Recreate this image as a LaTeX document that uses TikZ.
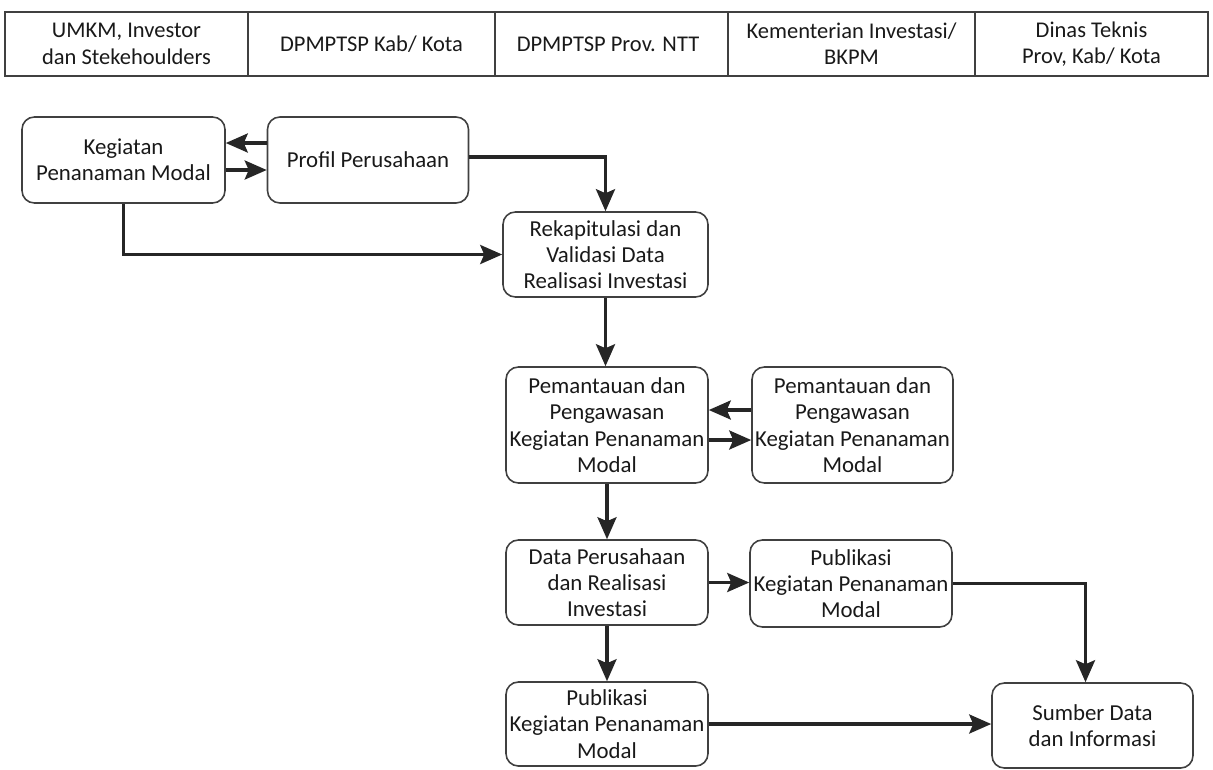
\documentclass[tikz,border=0pt]{standalone}
\usepackage{fontspec}
\setmainfont{Carlito}
\usetikzlibrary{arrows.meta,calc}

\tikzset{
  box/.style={draw=black!75, line width=0.9pt, rounded corners=7pt,
    align=center, inner sep=1pt, text=black!90,
    font=\fontsize{13}{15}\selectfont},
  head/.style={align=center, text=black!90,
    font=\fontsize{12.8}{15}\selectfont},
  arr/.style={line width=1.9pt, draw=black!85,
    -{Stealth[length=0.44cm, width=0.38cm, inset=0.08cm]}}
}

\begin{document}
\begin{tikzpicture}[x=0.02cm, y=-0.02cm]

\useasboundingbox (0,0) rectangle (1213,769);

% Header table
\draw[line width=0.9pt, black!75] (5,12) rectangle (1208,76);
\draw[line width=0.9pt, black!75] (248,12) -- (248,76);
\draw[line width=0.9pt, black!75] (495,12) -- (495,76);
\draw[line width=0.9pt, black!75] (728,12) -- (728,76);
\draw[line width=0.9pt, black!75] (975,12) -- (975,76);

\node[head] (hd1) at (126.5,44) {UMKM, Investor\\dan Stekehoulders};
\node[head] (hd2) at (371.5,44) {DPMPTSP Kab/ Kota};
\node[head] (hd3) at (608,44) {DPMPTSP Prov. NTT};
\node[head] (hd4) at (851.5,44) {Kementerian Investasi/\\BKPM};
\node[head] (hd5) at (1091.5,44) {Dinas Teknis\\Prov, Kab/ Kota};

% Process boxes
\node[box, minimum width=4.06cm, minimum height=1.72cm] (keg) at (123.5,160)
  {Kegiatan\\Penanaman Modal};
\node[box, minimum width=4.02cm, minimum height=1.72cm] (profil) at (368,160)
  {Profil Perusahaan};
\node[box, minimum width=4.1cm, minimum height=1.7cm] (rekap) at (605.5,254.5)
  {Rekapitulasi dan\\Validasi Data\\Realisasi Investasi};
\node[box, minimum width=4.04cm, minimum height=2.32cm] (pem1) at (607,425)
  {Pemantauan dan\\Pengawasan\\Kegiatan Penanaman\\Modal};
\node[box, minimum width=4.02cm, minimum height=2.32cm] (pem2) at (852.5,425)
  {Pemantauan dan\\Pengawasan\\Kegiatan Penanaman\\Modal};
\node[box, minimum width=4.04cm, minimum height=1.7cm] (data) at (607,582.5)
  {Data Perusahaan\\dan Realisasi\\Investasi};
\node[box, minimum width=4.04cm, minimum height=1.74cm] (pub2) at (851,583.5)
  {Publikasi\\Kegiatan Penanaman\\Modal};
\node[box, minimum width=4.04cm, minimum height=1.68cm] (pub1) at (607,724)
  {Publikasi\\Kegiatan Penanaman\\Modal};
\node[box, minimum width=4.02cm, minimum height=1.7cm] (sumber) at (1092.5,725.5)
  {Sumber Data\\dan Informasi};

% Connectors
\draw[arr] ($(profil.west)+(0,-17)$) -- ($(keg.east)+(0,-17)$);
\draw[arr] ($(keg.east)+(0,10)$) -- ($(profil.west)+(0,10)$);
\draw[arr] ($(profil.east)+(0,-3)$) -| (rekap.north);
\draw[arr] (keg.south) |- (rekap.west);
\draw[arr] (rekap.south) -- (rekap.south |- pem1.north);
\draw[arr] ($(pem2.west)+(0,-15)$) -- ($(pem1.east)+(0,-15)$);
\draw[arr] ($(pem1.east)+(0,15)$) -- ($(pem2.west)+(0,15)$);
\draw[arr] (pem1.south) -- (data.north);
\draw[arr] (data.east) -- (data.east -| pub2.west);
\draw[arr] (pub2.east) -| ($(sumber.north)+(-7,0)$);
\draw[arr] (data.south) -- (pub1.north);
\draw[arr] (pub1.east) -- (pub1.east -| sumber.west);

\end{tikzpicture}
\end{document}
